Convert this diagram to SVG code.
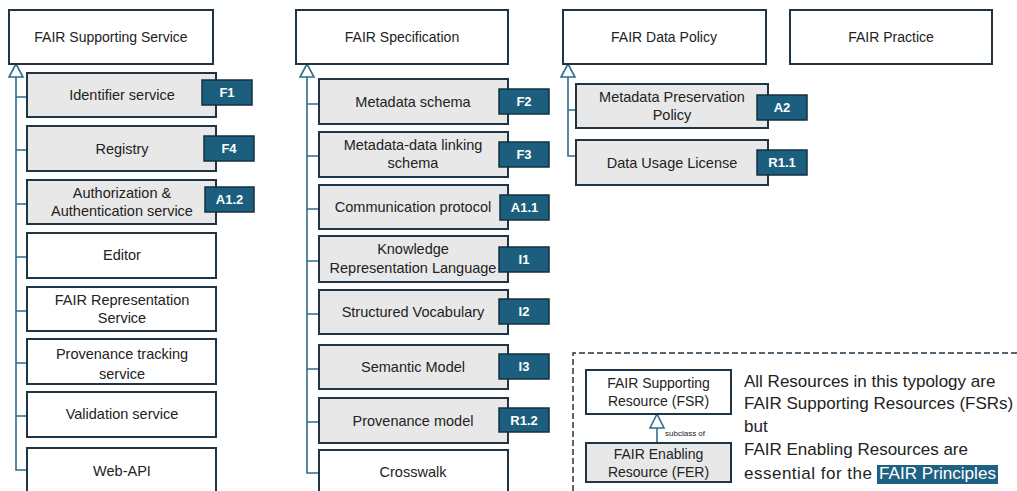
<svg xmlns="http://www.w3.org/2000/svg" width="1017" height="491" viewBox="0 0 1017 491">
<style>
.top{fill:#fff;stroke:#1f3444;stroke-width:2}
.sub{fill:#e8e8e8;stroke:#1f3444;stroke-width:2}
.wht{fill:#fff;stroke:#1f3444;stroke-width:2}
.bdg{fill:#1b5e7e;stroke:#16303f;stroke-width:1.5}
.t{font-family:"Liberation Sans",Arial,sans-serif;font-size:14.5px;fill:#222;text-anchor:middle}
.tt{font-family:"Liberation Sans",Arial,sans-serif;font-size:14px;fill:#222;text-anchor:middle}
.bt{font-family:"Liberation Sans",Arial,sans-serif;font-size:13px;font-weight:bold;fill:#fff;text-anchor:middle}
.c{fill:none;stroke:#2e6e8c;stroke-width:1.6}
.tri{fill:#fff;stroke:#2e6e8c;stroke-width:1.6}
.lg{font-family:"Liberation Sans",Arial,sans-serif;font-size:17px;fill:#222}
.hl{font-family:"Liberation Sans",Arial,sans-serif;font-size:17px;fill:#fff}
</style>
<rect width="1017" height="491" fill="#fff"/>
<g id="connectors">
<path class="c" d="M16,77V470H26M16,97H26M16,150H26M16,204H26M16,257H26M16,311H26M16,363H26M16,416H26"/>
<polygon class="tri" points="16,64 9,77 23,77"/>
<path class="c" d="M307,77V473H318M307,104H318M307,156H318M307,209H318M307,261H318M307,314H318M307,369H318M307,422H318"/>
<polygon class="tri" points="307,64 300,77 314,77"/>
<path class="c" d="M568,77V156H576M568,110H576"/>
<polygon class="tri" points="568,64 561,77 575,77"/>
<path class="c" d="M657,428V443"/>
<polygon class="tri" points="657,414 650,428 664,428"/>
</g>
<g id="n-fss"><rect class="top" x="9" y="10" width="204" height="54"/><text class="tt" x="111" y="42">FAIR Supporting Service</text></g>
<g id="n-identifier"><rect class="sub" x="27" y="73" width="189" height="44"/><text class="t" x="122" y="100">Identifier service</text><rect class="bdg" x="202" y="80" width="50" height="25"/><text class="bt" x="227" y="97">F1</text></g>
<g id="n-registry"><rect class="sub" x="27" y="126" width="189" height="45"/><text class="t" x="122" y="154">Registry</text><rect class="bdg" x="204" y="136" width="50" height="25"/><text class="bt" x="229" y="153">F4</text></g>
<g id="n-auth"><rect class="sub" x="27" y="180" width="189" height="44"/><text class="t" x="122" y="198">Authorization &amp;</text><text class="t" x="122" y="216">Authentication service</text><rect class="bdg" x="205" y="187" width="49" height="25"/><text class="bt" x="229.5" y="204">A1.2</text></g>
<g id="n-editor"><rect class="wht" x="27" y="233" width="189" height="45"/><text class="t" x="122" y="260">Editor</text></g>
<g id="n-frs"><rect class="wht" x="27" y="287" width="189" height="44"/><text class="t" x="122" y="305">FAIR Representation</text><text class="t" x="122" y="323">Service</text></g>
<g id="n-prov"><rect class="wht" x="27" y="339" width="189" height="45"/><text class="t" x="122" y="359">Provenance tracking</text><text class="t" x="122" y="379">service</text></g>
<g id="n-valid"><rect class="wht" x="27" y="392" width="189" height="45"/><text class="t" x="122" y="419">Validation service</text></g>
<g id="n-webapi"><rect class="wht" x="27" y="448" width="189" height="50"/><text class="t" x="122" y="476">Web-API</text></g>

<g id="n-fspec"><rect class="top" x="296" y="10" width="212" height="54"/><text class="tt" x="402" y="42">FAIR Specification</text></g>
<g id="n-mschema"><rect class="sub" x="319" y="79" width="189" height="45"/><text class="t" x="413" y="107">Metadata schema</text><rect class="bdg" x="499" y="89" width="50" height="25"/><text class="bt" x="524" y="106">F2</text></g>
<g id="n-mdlink"><rect class="sub" x="319" y="132" width="189" height="45"/><text class="t" x="413" y="150">Metadata-data linking</text><text class="t" x="413" y="168">schema</text><rect class="bdg" x="499" y="142" width="50" height="25"/><text class="bt" x="524" y="159">F3</text></g>
<g id="n-comm"><rect class="sub" x="319" y="185" width="189" height="44"/><text class="t" x="413" y="212">Communication protocol</text><rect class="bdg" x="500" y="195" width="49" height="25"/><text class="bt" x="524.5" y="212">A1.1</text></g>
<g id="n-krl"><rect class="sub" x="319" y="236" width="189" height="46"/><text class="t" x="413" y="254">Knowledge</text><text class="t" x="413" y="273">Representation Language</text><rect class="bdg" x="499" y="247" width="50" height="25"/><text class="bt" x="524" y="264">I1</text></g>
<g id="n-vocab"><rect class="sub" x="319" y="290" width="189" height="44"/><text class="t" x="413" y="317">Structured Vocabulary</text><rect class="bdg" x="499" y="299" width="50" height="25"/><text class="bt" x="524" y="316">I2</text></g>
<g id="n-sem"><rect class="sub" x="319" y="345" width="189" height="44"/><text class="t" x="413" y="372">Semantic Model</text><rect class="bdg" x="499" y="354" width="50" height="25"/><text class="bt" x="524" y="371">I3</text></g>
<g id="n-provm"><rect class="sub" x="319" y="398" width="189" height="45"/><text class="t" x="413" y="426">Provenance model</text><rect class="bdg" x="499" y="408" width="50" height="24"/><text class="bt" x="524" y="425">R1.2</text></g>
<g id="n-cross"><rect class="wht" x="319" y="450" width="189" height="50"/><text class="t" x="413" y="477">Crosswalk</text></g>

<g id="n-fdp"><rect class="top" x="563" y="10" width="203" height="54"/><text class="tt" x="664" y="42">FAIR Data Policy</text></g>
<g id="n-fp"><rect class="top" x="790" y="10" width="202" height="54"/><text class="tt" x="891" y="42">FAIR Practice</text></g>
<g id="n-mpp"><rect class="sub" x="576" y="84" width="192" height="44"/><text class="t" x="672" y="102">Metadata Preservation</text><text class="t" x="672" y="120">Policy</text><rect class="bdg" x="757" y="95" width="50" height="25"/><text class="bt" x="782" y="112">A2</text></g>
<g id="n-dul"><rect class="sub" x="576" y="140" width="192" height="45"/><text class="t" x="672" y="168">Data Usage License</text><rect class="bdg" x="757" y="150" width="50" height="25"/><text class="bt" x="782" y="167">R1.1</text></g>

<g id="legend">
<path d="M573,500V353H1020" fill="none" stroke="#1f3444" stroke-width="1.5" stroke-dasharray="6,3"/>
<g id="n-fsr"><rect class="wht" x="586" y="370" width="145" height="44" stroke-width="1.5"/><text class="tt" x="658.5" y="388">FAIR Supporting</text><text class="tt" x="658.5" y="406">Resource (FSR)</text></g>
<text x="665" y="436" font-family="Liberation Sans,Arial,sans-serif" font-size="8" fill="#222">subclass of</text>
<g id="n-fer"><rect class="sub" x="586" y="443" width="145" height="39" stroke-width="1.5"/><text class="tt" x="658.5" y="459">FAIR Enabling</text><text class="tt" x="658.5" y="477">Resource (FER)</text></g>
<rect x="877" y="465" width="121" height="19" fill="#1f6183"/>
<text class="lg" x="744" y="387">All Resources in this typology are</text>
<text class="lg" x="744" y="409">FAIR Supporting Resources (FSRs)</text>
<text class="lg" x="744" y="432">but</text>
<text class="lg" x="744" y="455">FAIR Enabling Resources are</text>
<text class="lg" x="744" y="479" textLength="128" lengthAdjust="spacing">essential for the</text>
<text class="hl" x="879" y="479" textLength="117" lengthAdjust="spacingAndGlyphs">FAIR Principles</text>
</g>
</svg>
